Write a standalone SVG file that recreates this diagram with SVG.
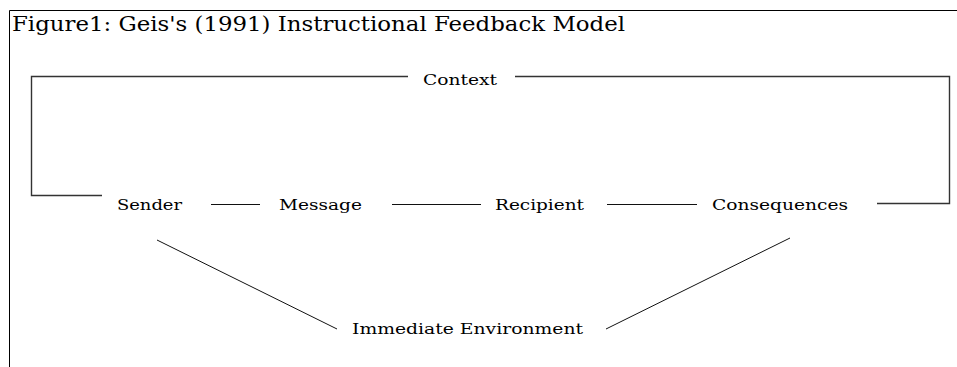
<svg xmlns="http://www.w3.org/2000/svg" width="957" height="367" viewBox="0 0 957 367">
<style>
.lbl{font-family:"DejaVu Serif","Liberation Serif",serif;font-size:15.5px;fill:#000}
.ttl{font-family:"DejaVu Serif","Liberation Serif",serif;font-size:19.5px;fill:#000}
.frame{fill:none;stroke:#000;stroke-width:1}
.box{fill:none;stroke:#333;stroke-width:1.4}
.ln{fill:none;stroke:#111;stroke-width:1}
</style>
<rect width="957" height="367" fill="#fff"/>
<path class="frame" d="M9.5,367 V10.5 H957"/>
<g id="title"><text class="ttl" x="12" y="31" textLength="613" lengthAdjust="spacingAndGlyphs">Figure1: Geis's (1991) Instructional Feedback Model</text></g>
<g id="connectors">
<path class="box" d="M102,195.5 H31.5 V76.5 H408"/>
<path class="box" d="M515,76.5 H949.5 V203.5 H877"/>
<path class="ln" d="M211,204.5 H260"/>
<path class="ln" d="M392,204.5 H481"/>
<path class="ln" d="M607,204.5 H697"/>
<path class="ln" d="M157,240 L337,329"/>
<path class="ln" d="M606,329 L790,238"/>
</g>
<g id="context"><text class="lbl" x="423" y="85" textLength="74" lengthAdjust="spacingAndGlyphs">Context</text></g>
<g id="sender"><text class="lbl" x="117" y="210" textLength="65" lengthAdjust="spacingAndGlyphs">Sender</text></g>
<g id="message"><text class="lbl" x="279" y="210" textLength="83" lengthAdjust="spacingAndGlyphs">Message</text></g>
<g id="recipient"><text class="lbl" x="495" y="210" textLength="89" lengthAdjust="spacingAndGlyphs">Recipient</text></g>
<g id="consequences"><text class="lbl" x="712" y="210" textLength="136" lengthAdjust="spacingAndGlyphs">Consequences</text></g>
<g id="environment"><text class="lbl" x="352" y="334" textLength="231" lengthAdjust="spacingAndGlyphs">Immediate Environment</text></g>
</svg>
